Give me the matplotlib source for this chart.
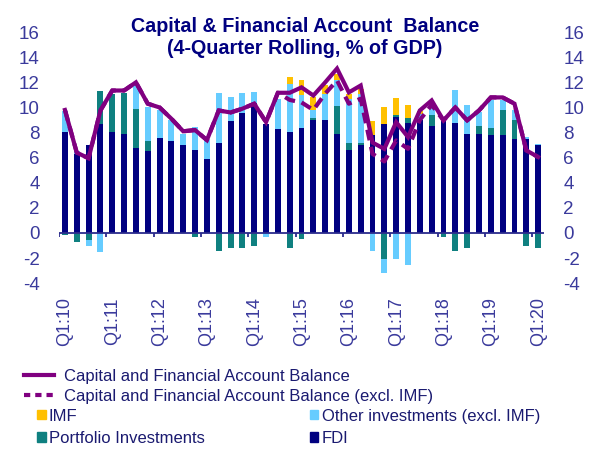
import numpy as np
import matplotlib
matplotlib.use("Agg")
import matplotlib.pyplot as plt
from matplotlib.patches import Patch
from matplotlib.lines import Line2D

plt.rcParams['font.family'] = ['Liberation Sans', 'DejaVu Sans']
plt.rcParams['axes.unicode_minus'] = False

# quarters Q1:10 .. Q1:20
quarters = [f"Q{q}:{y:02d}" for y in range(10, 21) for q in range(1, 5)][:41]
tick_labels = [f"Q1:{y}" for y in range(10, 21)]

fdi = [8.04, 6.3, 7.0, 8.7, 8.04, 7.88, 6.76, 6.5, 7.53, 7.3, 7.0, 6.63, 5.9,
       7.16, 8.9, 9.55, 10.37, 8.7, 8.25, 8.04, 8.4, 9.0, 9.0, 7.9, 6.63, 6.98,
       7.8, 8.65, 9.23, 8.75, 9.0, 8.5, 8.97, 8.75, 7.9, 7.9, 7.77, 7.77, 7.5,
       7.5, 6.98]
portfolio = [-0.15, -0.7, -0.6, 2.6, 3.05, 3.3, 3.1, 0.8, 0.0, 0.0, 0.0, -0.3,
             0.0, -1.45, -1.2, -1.2, -1.05, 0.0, 0.0, -1.2, -0.45, 0.18, 0.0,
             2.25, 0.53, 0.18, 0.0, -2.1, 0.13, 0.37, 0.0, 0.86, -0.3, -1.46,
             -1.2, 0.6, 0.61, 1.99, 1.47, -1.06, -1.2]
other = [1.7, 0.25, -0.45, -1.55, 0.0, 0.0, 1.9, 2.7, 2.3, 1.7, 0.85, 1.8, 1.5,
         4.0, 1.9, 1.6, 0.9, -0.3, 2.45, 3.85, 2.6, 0.62, 2.1, 2.0, 3.54, 3.94,
         -1.46, -1.08, -2.1, -2.57, 0.45, 0.64, 0.0, 2.65, 2.26, 1.1, 2.18, 0.8,
         0.79, 0.14, 0.12]
imf = [0]*19 + [0.5, 1.15, 1.0, 0.65, 0.55, 0.4, 0.4, 1.1, 1.35, 1.41, 1.04,
                0.3, 0.35] + [0]*9

cfa = [9.8, 6.4, 5.95, 9.76, 11.35, 11.35, 12.0, 10.3, 10.0, 9.1, 8.1, 8.2, 7.4,
       9.76, 9.6, 9.9, 10.3, 8.83, 11.17, 11.17, 11.6, 10.95, 12.0, 13.1, 11.2,
       11.75, 7.2, 6.7, 8.83, 7.64, 9.76, 10.56, 8.97, 10.0, 8.97, 9.76, 10.8,
       10.8, 10.3, 6.58, 6.05]
cfa_ex_imf = cfa[:19] + [10.6, 10.4, 9.8, 11.1, 12.15, 10.3, 10.7, 6.3, 5.7,
                         7.37, 6.7, 9.0, 10.2] + cfa[32:]

c_fdi = '#000080'
c_port = '#0F8080'
c_other = '#66CCFF'
c_imf = '#FFC000'
c_line = '#800080'
c_tick = '#3A3A9C'
c_text = '#1A1A70'

fig = plt.figure(figsize=(5.92, 4.53), dpi=100)
ax = fig.add_axes([0.0997, 0.375, 0.8193, 0.554])

x = np.arange(len(quarters))
w = 0.5
series = [(fdi, c_fdi), (portfolio, c_port), (other, c_other), (imf, c_imf)]
pos_base = np.zeros(len(x))
neg_base = np.zeros(len(x))
for vals, col in series:
    v = np.array(vals, dtype=float)
    p = np.where(v > 0, v, 0)
    n = np.where(v < 0, v, 0)
    ax.bar(x, p, w, bottom=pos_base, color=col, linewidth=0, zorder=2)
    ax.bar(x, n, w, bottom=neg_base, color=col, linewidth=0, zorder=2)
    pos_base += p
    neg_base += n

ax.plot(x, cfa, color=c_line, lw=3, zorder=4, solid_joinstyle='miter')
ax.plot(x, cfa_ex_imf, color=c_line, lw=3, dashes=(2.6, 1.6), zorder=4)

ax.axhline(0, color='#2B2B8C', lw=1.3, zorder=3)
ax.vlines(np.arange(-0.5, 40, 4), -0.35, 0, color='#2B2B8C', lw=1.3, zorder=3)

ax.set_xlim(-0.5, 40.5)
ax.set_ylim(-4, 16)
ax.set_yticks(range(-4, 17, 2))
ax.set_xticks(np.arange(0, 41, 4))
ax.set_xticklabels(tick_labels, rotation=90, color=c_tick, fontsize=13)
ax.tick_params(axis='x', length=0, pad=10)
ax.tick_params(axis='y', length=0, labelleft=True, labelright=True,
               labelsize=13.5, labelcolor=c_tick, pad=14)
for s in ax.spines.values():
    s.set_visible(False)

fig.text(0.515, 0.962,
         "Capital & Financial Account  Balance\n(4-Quarter Rolling, % of GDP)",
         ha='center', va='top', fontsize=14.2, fontweight='bold', color=c_fdi,
         linespacing=1.2)

h1 = [Line2D([], [], color=c_line, lw=3),
      Line2D([], [], color=c_line, lw=3, dashes=(1.5, 1.2))]
fig.legend(h1, ["Capital and Financial Account Balance",
                "Capital and Financial Account Balance (excl. IMF)"],
           loc='upper left', bbox_to_anchor=(0.04, 0.186),
           frameon=False, fontsize=12, handlelength=1.8,
           handletextpad=0.6, labelspacing=0.32, borderpad=0,
           borderaxespad=0, labelcolor=c_text)

h2 = [Patch(color=c_imf), Patch(color=c_port), Patch(color=c_other),
      Patch(color=c_fdi)]
fig.legend(h2, ["IMF", "Portfolio Investments", "Other investments (excl. IMF)",
                "FDI"],
           loc='upper left', bbox_to_anchor=(0.063, 0.098), ncol=2,
           frameon=False, fontsize=12, handlelength=0.5, handleheight=0.5,
           handletextpad=0.2, labelspacing=0.45, columnspacing=6.3,
           borderpad=0, borderaxespad=0, labelcolor=c_text)

fig.savefig("out.png", dpi=100)
